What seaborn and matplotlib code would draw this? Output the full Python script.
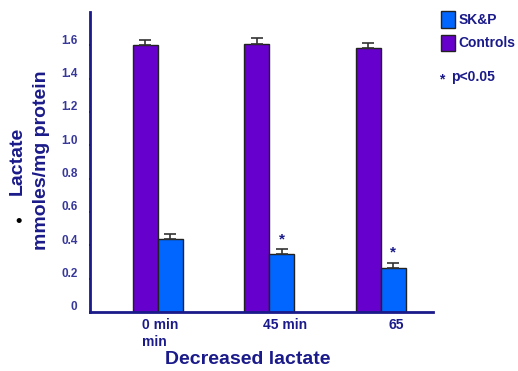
import pandas as pd
import numpy as np
import matplotlib
matplotlib.use('Agg')
import matplotlib.pyplot as plt
import matplotlib.transforms as mtransforms
from matplotlib.patches import Patch
import seaborn as sns

# DATA ---------------------------------------------------------------------------
groups = ['0 min\nmin', '45 min', '65']
controls = [1.60, 1.61, 1.585]
controls_err = [0.03, 0.035, 0.03]
skp = [0.438, 0.348, 0.264]
skp_err = [0.028, 0.030, 0.032]
significant = [False, True, True]   # SK&P bars with p<0.05
y_ticks = [0, 0.2, 0.4, 0.6, 0.8, 1.0, 1.2, 1.4, 1.6]
# END ----------------------------------------------------------------------------

# colours
purple = '#6600cc'
blue = '#0066ff'
navy = '#1a1a8a'
tick_blue = '#38389a'

df = pd.DataFrame({
    'group': groups * 2,
    'value': controls + skp,
    'err': controls_err + skp_err,
    'series': ['Controls'] * 3 + ['SK&P'] * 3,
})

sns.set_style('white')
plt.rcParams['font.family'] = ['Liberation Sans', 'DejaVu Sans']
plt.rcParams['font.weight'] = 'bold'

fig = plt.figure(figsize=(5.18, 3.71), dpi=100)
ax = fig.add_axes([0.1737, 0.159, 0.836 - 0.1737, 0.9677 - 0.159])

sns.barplot(data=df, x='group', y='value', hue='series', order=groups,
            hue_order=['Controls', 'SK&P'], palette=[purple, blue],
            width=0.45, gap=0, edgecolor='#222222', linewidth=1,
            errorbar=None, legend=False, saturation=1, ax=ax)

# error bars (upper only), one container per series
for cont, errs in zip(ax.containers, [controls_err, skp_err]):
    xs = [b.get_x() + b.get_width() / 2 for b in cont]
    ys = [b.get_height() for b in cont]
    ax.errorbar(xs, ys, yerr=[np.zeros(len(errs)), errs], fmt='none',
                ecolor='#333333', elinewidth=1.2, capsize=4.5, capthick=1.2, zorder=5)

# significance stars on SK&P bars
for b, e, sig in zip(ax.containers[1], skp_err, significant):
    if sig:
        ax.annotate('*', (b.get_x() + b.get_width() / 2, b.get_height() + e),
                    xytext=(0, 2), textcoords='offset points', ha='center', va='bottom',
                    color=navy, fontsize=11, fontweight='bold')

ax.set_xlim(-0.61, 2.47)
ax.set_ylim(0, 1.8)
ax.set_yticks(y_ticks)
ax.set_yticklabels(['0' if t == 0 else f'{t:.1f}' for t in y_ticks],
                   fontsize=8.5, color=tick_blue, fontweight='bold')
ax.tick_params(axis='y', which='major', length=2, width=1.5, color=navy, pad=8, direction='inout', left=True)
ax.tick_params(axis='x', length=0, pad=4)
ax.set_xticks(range(len(groups)))
ax.set_xticklabels(groups, fontsize=10, color=navy, fontweight='bold', linespacing=1.3,
                   multialignment='left')

# nudge labels like the original slide
for lab in ax.get_yticklabels():
    lab.set_transform(lab.get_transform() + mtransforms.ScaledTranslation(0, 4.5 / 72, fig.dpi_scale_trans))
for lab, dx in zip(ax.get_xticklabels(), [2, 16, 16]):
    lab.set_transform(lab.get_transform() + mtransforms.ScaledTranslation(dx / 100, 0, fig.dpi_scale_trans))

for side in ['top', 'right']:
    ax.spines[side].set_visible(False)
for side in ['left', 'bottom']:
    ax.spines[side].set_color(navy)
    ax.spines[side].set_linewidth(2)

ax.set_xlabel('')
ax.set_ylabel('')
# y label: two separate lines so the slide bullet sits clear of them
fig.text(0.034, 0.566, 'Lactate', rotation=90, ha='center', va='center',
         fontsize=14, color=navy, fontweight='bold')
fig.text(0.081, 0.569, 'mmoles/mg protein', rotation=90, ha='center', va='center',
         fontsize=14, color=navy, fontweight='bold')
fig.text(0.478, 0.03, 'Decreased lactate', ha='center', va='center',
         fontsize=14, color=navy, fontweight='bold')
fig.text(0.035, 0.404, '\u2022', ha='center', va='center', fontsize=13, color='black')

handles = [Patch(facecolor=blue, edgecolor='#222222', label='SK&P'),
           Patch(facecolor=purple, edgecolor='#222222', label='Controls')]
leg = fig.legend(handles=handles, loc='upper left', bbox_to_anchor=(0.851, 0.97),
                 frameon=False, handlelength=1.05, handleheight=1.45, handletextpad=0.25,
                 labelspacing=0.5, borderaxespad=0, borderpad=0,
                 prop={'size': 10, 'weight': 'bold'})
for t in leg.get_texts():
    t.set_color(navy)
fig.text(0.848, 0.785, '*', ha='left', va='center', fontsize=10, color=navy, fontweight='bold')
fig.text(0.870, 0.792, 'p<0.05', ha='left', va='center', fontsize=10, color=navy, fontweight='bold')

fig.savefig('out.png', dpi=100)
